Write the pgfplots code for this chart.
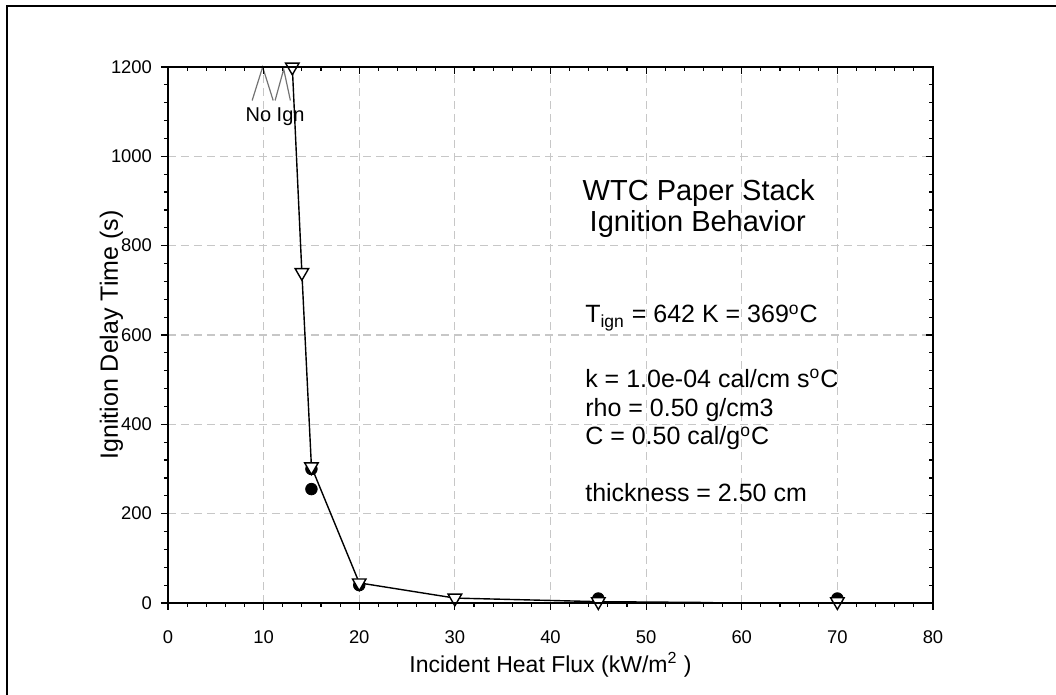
\documentclass[border=0pt]{standalone}
\usepackage{pgfplots}
\pgfplotsset{compat=1.18}
\usepackage{fontspec}
\setmainfont{Liberation Sans}
\begin{document}
\begin{tikzpicture}
\path[use as bounding box] (-84pt,-46pt) rectangle (444pt,301.5pt);
\begin{axis}[
  scale only axis, width=382.5pt, height=268pt,
  xmin=0, xmax=80, ymin=0, ymax=1200,
  xtick={0,10,...,80}, ytick={0,200,...,1200},
  minor x tick num=4, minor y tick num=4,
  xtick pos=bottom, ytick pos=left, tick align=outside,
  major tick length=3.5pt, minor tick length=2pt,
  every tick/.style={black, line width=0.6pt},
  axis line style={black, line width=0.9pt},
  grid=major,
  major grid style={black!22, line width=0.6pt, dash pattern=on 4pt off 2.5pt},
  /pgf/number format/assume math mode=true,
  /pgf/number format/1000 sep={},
  tick label style={font=\fontsize{9.2}{11}\selectfont},
  yticklabel style={xshift=-1pt},
  xticklabel style={yshift=-7pt},
  xlabel={Incident Heat Flux (kW/m\textsuperscript{2} )},
  ylabel={Ignition Delay Time (s)},
  xlabel style={font=\fontsize{11.5}{13}\selectfont, at={(axis description cs:0.5,-0.1157)}, anchor=center},
  ylabel style={font=\fontsize{12.5}{14}\selectfont, at={(axis description cs:-0.074,0.5)}, anchor=center},
  clip=false,
]
% No ignition carets
\addplot[black!55, line width=0.6pt] coordinates {(8.8,1125) (9.9,1200) (11.0,1125)};
\addplot[black!55, line width=0.6pt] coordinates {(11.2,1125) (12.1,1195) (12.8,1125)};
% connecting line
\addplot[black, line width=0.7pt] coordinates {
  (13,1200) (14,740) (15,305) (20,45) (30,11) (45,3) (57,1)};
% filled circles
\addplot[only marks, mark=*, mark size=2.9pt, draw=black, fill=black] coordinates {
  (15,300) (15,255) (20,40) (45,10) (70,10)};
% open down triangles
\addplot[only marks, mark=triangle*, mark size=3.9pt, mark options={rotate=180, draw=black, fill=white, line width=0.7pt}] coordinates {
  (13,1200) (14,740) (15,305) (20,45) (30,11) (45,3) (70,3)};
\node[font=\fontsize{10}{12}\selectfont] at (axis cs:11.2,1088) {No Ign};
\node[font=\fontsize{14.5}{17}\selectfont, anchor=base] at (axis cs:55.5,902) {WTC Paper Stack};
\node[font=\fontsize{14.5}{17}\selectfont, anchor=base] at (axis cs:55.4,831) {Ignition Behavior};
\node[font=\fontsize{12.5}{15}\selectfont, anchor=base west, inner sep=0pt] at (axis cs:43.6,627) {T\textsubscript{ign} = 642 K = 369\textsuperscript{o}C};
\node[font=\fontsize{12.5}{15}\selectfont, anchor=base west, inner sep=0pt] at (axis cs:43.6,483) {k = 1.0e-04 cal/cm s\textsuperscript{o}C};
\node[font=\fontsize{12.5}{15}\selectfont, anchor=base west, inner sep=0pt] at (axis cs:43.6,417) {rho = 0.50 g/cm3};
\node[font=\fontsize{12.5}{15}\selectfont, anchor=base west, inner sep=0pt] at (axis cs:43.6,354) {C = 0.50 cal/g\textsuperscript{o}C};
\node[font=\fontsize{12.5}{15}\selectfont, anchor=base west, inner sep=0pt] at (axis cs:43.6,227) {thickness = 2.50 cm};
\end{axis}
\begin{axis}[
  scale only axis, width=382.5pt, height=268pt,
  xmin=0, xmax=80, ymin=0, ymax=1200,
  xtick={0,10,...,80}, ytick={0,200,...,1200},
  minor x tick num=4, minor y tick num=4,
  xtick pos=top, ytick pos=right, tick align=inside,
  major tick length=3.5pt, minor tick length=2pt,
  every tick/.style={black, line width=0.6pt},
  axis line style={black, line width=0.9pt},
  xticklabels={}, yticklabels={},
]
\end{axis}
\draw[black, line width=1pt] (-80.5pt,-46pt) -- (-80.5pt,298.5pt) -- (444pt,298.5pt);
\end{tikzpicture}
\end{document}
